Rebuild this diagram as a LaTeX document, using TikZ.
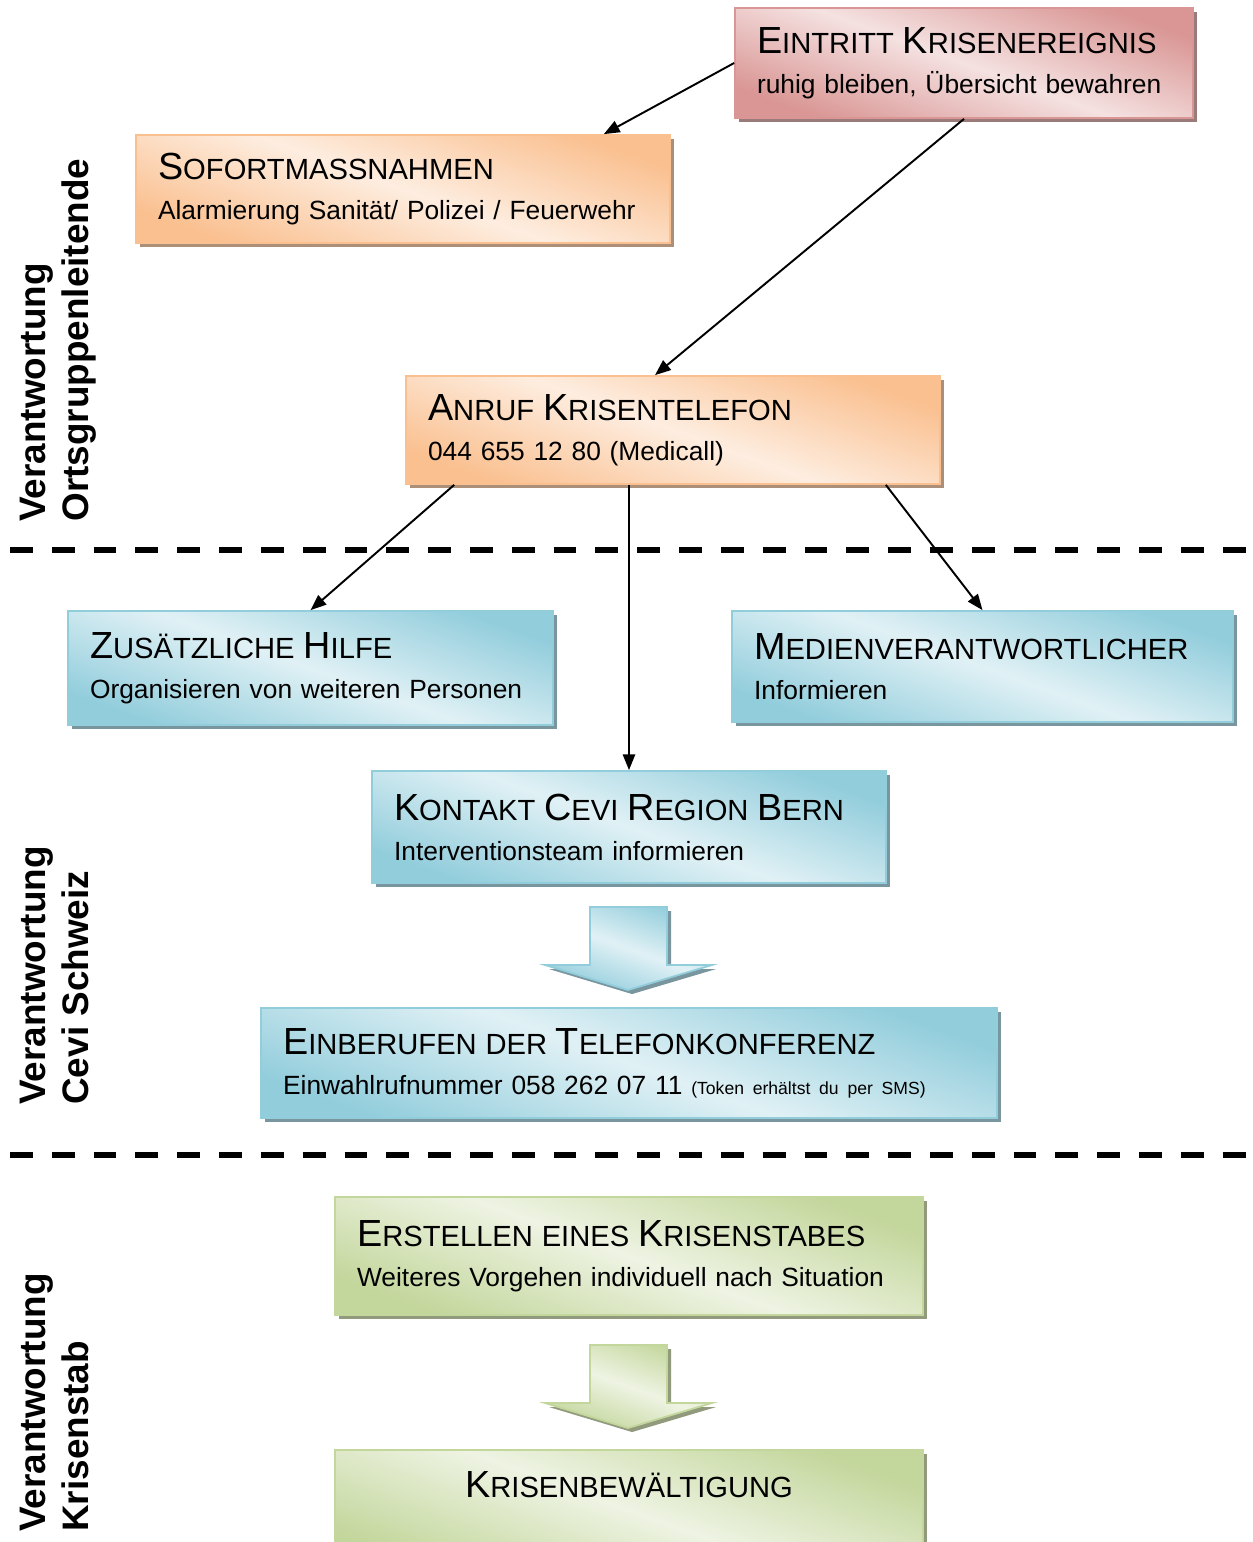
\documentclass[tikz,border=0pt]{standalone}
\usepackage{fontspec}
\setmainfont{Liberation Sans}
\usepackage{xcolor}
\usetikzlibrary{calc}
\usetikzlibrary{arrows.meta}
\usetikzlibrary{shadows}

\definecolor{krot}{HTML}{D99694}
\definecolor{korange}{HTML}{FAC090}
\definecolor{kblau}{HTML}{92CDDC}
\definecolor{kgruen}{HTML}{C3D69B}

\newcommand{\grossklein}[2]{{\fontsize{21.5pt}{22.7pt}\selectfont #1}{\fontsize{16.6pt}{22.7pt}\selectfont #2}}
\newcommand{\grundschrift}{\fontsize{15pt}{22.7pt}\selectfont}

\begin{document}
\begin{tikzpicture}[x=0.02cm, y=-0.02cm]

\tikzset{
    flaeche/.style = {
    draw=#1, line width=1pt,
    top color=#1, bottom color=#1, middle color=#1!28!white,
    shading angle=-20,
    general shadow={fill=#1!60!black!80, shadow xshift=2.3pt, shadow yshift=-2.3pt}
    },
    kasten/.style = {
    flaeche=#1, rectangle,
    inner xsep=0.44cm, inner ysep=0pt,
    align=left, font=\grundschrift
    }
}

\tikzstyle{pfeil}=[line width=1.1pt, -{Triangle[length=9pt, width=7pt]}]
\tikzstyle{trenner}=[line width=3.2pt, dash pattern=on 13pt off 10.8pt]
\tikzstyle{verantwortung}=[rotate=90, anchor=north west, inner sep=0pt, align=left, font=\fontsize{21pt}{24.5pt}\selectfont\bfseries]

\useasboundingbox (0,0) rectangle (1253,1542);

% Trennlinien
\draw [trenner] (10,550) -- (1253,550);
\draw [trenner] (10,1155) -- (1253,1155);

\node (v-ortsgruppe) [verantwortung] at (20,522) {Verantwortung\\Ortsgruppenleitende};
\node (v-cevi) [verantwortung] at (20,1105) {Verantwortung\\Cevi Schweiz};
\node (v-krisenstab) [verantwortung] at (20,1532) {Verantwortung\\Krisenstab};

\node (b-eintritt) [kasten=krot, minimum width=9.16cm, minimum height=2.2cm, text width=8.28cm] at (964,63)
    {\grossklein{E}{INTRITT} \grossklein{K}{RISENEREIGNIS}\\ruhig bleiben, Übersicht bewahren};
\node (b-sofort) [kasten=korange, minimum width=10.68cm, minimum height=2.16cm, text width=9.8cm] at (403,189)
    {\grossklein{S}{OFORTMASSNAHMEN}\\Alarmierung Sanität/ Polizei / Feuerwehr};
\node (b-anruf) [kasten=korange, minimum width=10.68cm, minimum height=2.16cm, text width=9.8cm] at (673,430)
    {\grossklein{A}{NRUF} \grossklein{K}{RISENTELEFON}\\044 655 12 80 (Medicall)};
\node (b-zusatz) [kasten=kblau, minimum width=9.7cm, minimum height=2.28cm, text width=8.82cm] at (310.5,668)
    {\grossklein{Z}{USÄTZLICHE} \grossklein{H}{ILFE}\\Organisieren von weiteren Personen};
\node (b-medien) [kasten=kblau, minimum width=10.02cm, minimum height=2.22cm, text width=9.14cm] at (982.5,666.5)
    {\grossklein{M}{EDIENVERANTWORTLICHER}\\Informieren};
\node (b-kontakt) [kasten=kblau, minimum width=10.28cm, minimum height=2.24cm, text width=9.4cm] at (629,827)
    {\grossklein{K}{ONTAKT} \grossklein{C}{EVI} \grossklein{R}{EGION} \grossklein{B}{ERN}\\Interventionsteam informieren};
\node (b-konferenz) [kasten=kblau, minimum width=14.72cm, minimum height=2.2cm, text width=13.84cm] at (629,1063)
    {\grossklein{E}{INBERUFEN DER} \grossklein{T}{ELEFONKONFERENZ}\\Einwahlrufnummer 058 262 07 11 \mbox{\fontsize{10pt}{22.7pt}\selectfont (Token erhältst du per SMS)}};
\node (b-krisenstab) [kasten=kgruen, minimum width=11.76cm, minimum height=2.36cm, text width=10.88cm] at (629,1256)
    {\grossklein{E}{RSTELLEN EINES} \grossklein{K}{RISENSTABES}\\Weiteres Vorgehen individuell nach Situation};
\node (b-bewaeltigung) [kasten=kgruen, minimum width=11.76cm, minimum height=2.4cm, text width=10.88cm, align=center] at (629,1510)
    {\grossklein{K}{RISENBEWÄLTIGUNG}\\[6pt]\mbox{}};

% Blockpfeile
\draw [flaeche=kblau] (590,907) -- (667,907) -- (667,965) -- (712,965) -- (628,990) -- (545,965) -- (590,965) -- cycle;
\draw [flaeche=kgruen] (590,1345) -- (667,1345) -- (667,1403) -- (712,1403) -- (628,1428) -- (545,1403) -- (590,1403) -- cycle;

\draw [pfeil] (b-eintritt.west) -- ([shift={(-67,0)}]b-sofort.north east);
\draw [pfeil] (b-eintritt.south) -- ([shift={(-18,0)}]b-anruf.north);
\draw [pfeil] ([shift={(49,0)}]b-anruf.south west) -- (b-zusatz.north);
\draw [pfeil] (b-anruf.south -| b-kontakt.north) -- (b-kontakt.north);
\draw [pfeil] ([shift={(-55,0)}]b-anruf.south east) -- (b-medien.north);

\end{tikzpicture}
\end{document}
